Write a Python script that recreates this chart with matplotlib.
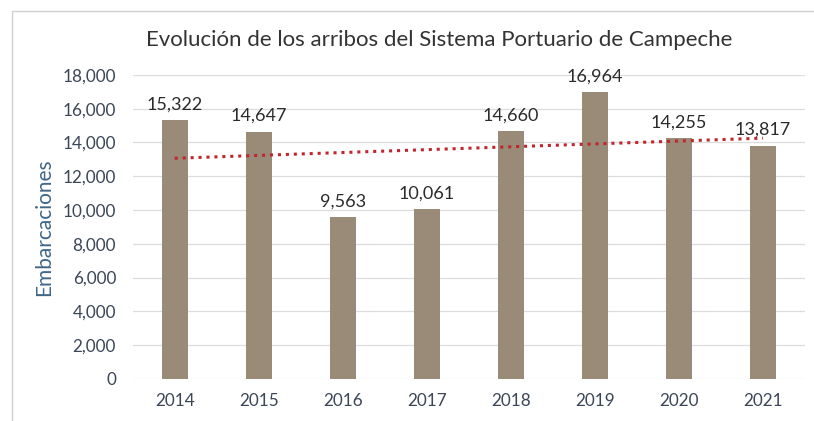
import matplotlib.pyplot as plt
import numpy as np
from matplotlib.patches import Rectangle

plt.rcParams['font.family'] = ['Lato', 'DejaVu Sans']

years = ['2014', '2015', '2016', '2017', '2018', '2019', '2020', '2021']
arribos = [15322, 14647, 9563, 10061, 14660, 16964, 14255, 13817]
yticks = [0, 2000, 4000, 6000, 8000, 10000, 12000, 14000, 16000, 18000]

fig = plt.figure(figsize=(8.14, 4.21), dpi=100)
ax = fig.add_axes([0.163, 0.10, 0.826, 0.722])

x = np.arange(len(years))
ax.bar(x, arribos, width=0.31, color='#9a8a78', zorder=2)
for xi, v in zip(x, arribos):
    ax.text(xi, v + 450, f'{v:,}', ha='center', va='bottom', fontsize=13, color='#2b2b2b')

# linear trend line
m, b = np.polyfit(x, arribos, 1)
ax.plot(x, m * x + b, color='#c0262d', linestyle=(0, (1, 1.6)), linewidth=2.2, zorder=3)

ax.set_xlim(-0.5, 7.5)
ax.set_ylim(0, 18000)
ax.set_yticks(yticks)
ax.set_yticklabels([f'{t:,}' for t in yticks])
ax.set_xticks(x)
ax.set_xticklabels(years)
ax.tick_params(axis='both', length=0, labelsize=12.3, colors='#3b4656')
ax.tick_params(axis='x', pad=10)
ax.tick_params(axis='y', pad=12)
ax.grid(axis='y', color='#dcdcdc', linewidth=0.9, zorder=0)
for s in ax.spines.values():
    s.set_visible(False)
ax.set_ylabel('Embarcaciones', fontsize=15, color='#3f6688', labelpad=6)

fig.text(0.54, 0.905, 'Evolución de los arribos del Sistema Portuario de Campeche',
         ha='center', va='center', fontsize=16, color='#333333')

# outer chart frame
fig.patches.append(Rectangle((0.015, -0.01), 1.0, 0.985, transform=fig.transFigure,
                             fill=False, edgecolor='#d0d0d0', linewidth=1.0))

fig.savefig('out.png', dpi=100)
